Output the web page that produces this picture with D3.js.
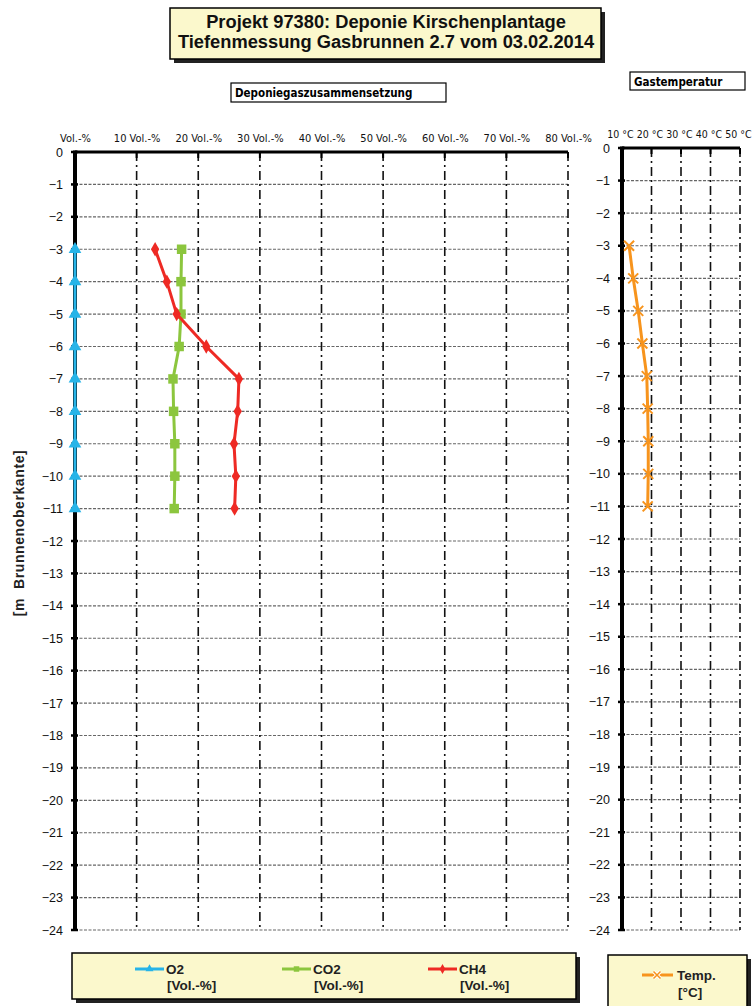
<!DOCTYPE html>
<html><head><meta charset="utf-8">
<script src="https://cdn.jsdelivr.net/npm/d3@7"></script>
<style>
body{margin:0;background:#fff;}
svg{display:block;}
text{font-family:"Liberation Sans",Arial,sans-serif;}
.narrow{font-family:"Liberation Sans Narrow","DejaVu Sans Condensed","Liberation Sans",sans-serif;}
</style></head>
<body>
<script>
const depths = [-3,-4,-5,-6,-7,-8,-9,-10,-11];
const o2  = [0,0,0,0,0,0,0,0,0];
const co2 = [17.3,17.2,17.2,16.9,15.9,16.0,16.2,16.2,16.1];
const ch4 = [13.0,14.9,16.5,21.3,26.6,26.4,25.8,26.1,25.9];
const temp = [12.4,13.8,15.5,16.9,18.4,18.7,18.9,18.9,18.7];
const gasTicks = [0,10,20,30,40,50,60,70,80];
const gasTickLabels = ["Vol.-%","10 Vol.-%","20 Vol.-%","30 Vol.-%","40 Vol.-%","50 Vol.-%","60 Vol.-%","70 Vol.-%","80 Vol.-%"];
const tempTicks = [10,20,30,40,50];
const tempTickLabels = ["10 °C","20 °C","30 °C","40 °C","50 °C"];
const depthTicks = d3.range(0,-25,-1);
const titleLines = ["Projekt 97380: Deponie Kirschenplantage","Tiefenmessung Gasbrunnen 2.7 vom 03.02.2014"];

const W=754,H=1006;
const svg=d3.select("body").append("svg").attr("width",W).attr("height",H);

function shadowBox(x,y,w,h,fill){
  svg.append("rect").attr("x",x+4).attr("y",y+4).attr("width",w).attr("height",h).attr("fill","#222");
  svg.append("rect").attr("x",x).attr("y",y).attr("width",w).attr("height",h).attr("fill",fill).attr("stroke","#000").attr("stroke-width",1.5);
}

// Title
shadowBox(170,8,431,51,"#fbf8cc");
svg.selectAll(".tl").data(titleLines).join("text")
  .attr("x",386).attr("y",(d,i)=>28+i*19.5).attr("text-anchor","middle")
  .attr("font-size",18.3).attr("font-weight","bold").attr("fill","#111").text(d=>d);

// subtitle boxes
svg.append("rect").attr("x",231).attr("y",83).attr("width",215).attr("height",19).attr("fill","#fff").attr("stroke","#000").attr("stroke-width",1.2);
svg.append("text").attr("class","narrow").attr("x",235).attr("y",97).attr("font-size",11.5).attr("font-weight","bold").text("Deponiegaszusammensetzung");
svg.append("rect").attr("x",630).attr("y",72).attr("width",115).attr("height",18).attr("fill","#fff").attr("stroke","#000").attr("stroke-width",1.2);
svg.append("text").attr("class","narrow").attr("x",634).attr("y",85.5).attr("font-size",11.5).attr("font-weight","bold").text("Gastemperatur");

function panel(opts){
  const {x0,x1,y0,y1,dom,ticks,labels,labelDy}=opts;
  const x=d3.scaleLinear().domain(dom).range([x0,x1]);
  const y=d3.scaleLinear().domain([0,-24]).range([y0,y1]);
  const g=svg.append("g");
  // horizontal grid
  g.selectAll(".hg").data(depthTicks.filter(d=>d!==0)).join("line")
    .attr("x1",x0).attr("x2",x1).attr("y1",d=>y(d)).attr("y2",d=>y(d))
    .attr("stroke","#666").attr("stroke-width",1.1).attr("stroke-dasharray","3,1.5");
  // vertical grid
  g.selectAll(".vg").data(ticks.slice(1)).join("line")
    .attr("x1",d=>x(d)).attr("x2",d=>x(d)).attr("y1",y0).attr("y2",y1)
    .attr("stroke","#111").attr("stroke-width",1.6).attr("stroke-dasharray","9,4,2,4");
  // top axis
  const top=d3.axisTop(x).tickValues(ticks).tickSize(0).tickFormat((d,i)=>labels[i]);
  const ta=g.append("g").attr("transform",`translate(0,${y0})`).call(top);
  ta.select(".domain").remove();
  ta.selectAll("text").attr("class","narrow").attr("font-size",opts.tickFont).attr("fill","#111").attr("dy",labelDy).attr("dx",opts.labelDx||0);
  g.append("line").attr("x1",x0).attr("x2",x1).attr("y1",y0).attr("y2",y0).attr("stroke","#000").attr("stroke-width",3);
  g.selectAll(".tt").data(ticks.slice(1)).join("line")
    .attr("x1",d=>x(d)).attr("x2",d=>x(d)).attr("y1",y0).attr("y2",y0+6).attr("stroke","#000").attr("stroke-width",2);
  // left axis
  const left=d3.axisLeft(y).tickValues(depthTicks).tickSize(0).tickPadding(opts.pad).tickFormat(d3.format("d"));
  const la=g.append("g").attr("transform",`translate(${x0},0)`).call(left);
  la.select(".domain").remove();
  la.selectAll("text").attr("font-size",12.5).attr("fill","#111").attr("font-family","Liberation Sans, Arial, sans-serif");
  g.selectAll(".lt").data(depthTicks).join("line")
    .attr("x1",x0-4).attr("x2",x0+3).attr("y1",d=>y(d)).attr("y2",d=>y(d)).attr("stroke","#000").attr("stroke-width",2.5);
  g.append("line").attr("x1",x0).attr("x2",x0).attr("y1",y0-1.5).attr("y2",y1).attr("stroke","#000").attr("stroke-width",4);
  return {x,y,g};
}

const P1=panel({x0:75,x1:568,y0:152,y1:930,dom:[0,80],ticks:gasTicks,labels:gasTickLabels,labelDy:-7,pad:12,tickFont:11});
const P2=panel({x0:622,x1:740,y0:148,y1:930,dom:[10,50],ticks:tempTicks,labels:tempTickLabels,labelDy:-7,labelDx:-2,pad:12,tickFont:10.5});

// y title
svg.append("text").attr("transform","translate(24,533) rotate(-90)").attr("text-anchor","middle")
  .attr("font-size",14).attr("font-weight","bold").attr("fill","#222").attr("letter-spacing",0.6).attr("xml:space","preserve").text("[m  Brunnenoberkante]");

const colors={o2:"#27b4e8",co2:"#8cc63e",ch4:"#ee2a24",temp:"#f7941d"};
function series(P,vals,color,marker){
  const pts=vals.map((v,i)=>[v,depths[i]]);
  const line=d3.line().x(d=>P.x(d[0])).y(d=>P.y(d[1]));
  P.g.append("path").datum(pts).attr("d",line).attr("fill","none").attr("stroke",color).attr("stroke-width",3);
  const m=P.g.selectAll(null).data(pts).join("g").attr("transform",d=>`translate(${P.x(d[0])},${P.y(d[1])})`);
  drawMarker(m,marker,color);
}
function drawMarker(sel,marker,color){
  if(marker==="x"){
    sel.append("path").attr("d","M-5,-5L5,5M-5,5L5,-5").attr("stroke",color).attr("stroke-width",2).attr("fill","none");
  } else {
    const t={tri:d3.symbolTriangle,sq:d3.symbolSquare,dia:d3.symbolDiamond}[marker];
    const s={tri:70,sq:90,dia:60}[marker];
    sel.append("path").attr("d",d3.symbol(t,s)).attr("fill",color);
  }
}
series(P1,o2,colors.o2,"tri");
series(P1,co2,colors.co2,"sq");
series(P1,ch4,colors.ch4,"dia");
series(P2,temp,colors.temp,"x");

// legends
shadowBox(72,953,504,46,"#fbf8cc");
const leg=[{n:"O2",c:colors.o2,m:"tri",x:135},{n:"CO2",c:colors.co2,m:"sq",x:282},{n:"CH4",c:colors.ch4,m:"dia",x:428}];
leg.forEach(l=>{
  svg.append("line").attr("x1",l.x).attr("x2",l.x+29).attr("y1",969).attr("y2",969).attr("stroke",l.c).attr("stroke-width",3);
  const g=svg.append("g").attr("transform",`translate(${l.x+14.5},969)`);
  g.append("path").attr("d",d3.symbol({tri:d3.symbolTriangle,sq:d3.symbolSquare,dia:d3.symbolDiamond}[l.m],l.m==="sq"?30:28)).attr("fill",l.c);
  svg.append("text").attr("x",l.x+31).attr("y",974).attr("font-size",13.5).attr("font-weight","bold").attr("fill","#222").text(l.n);
  svg.append("text").attr("x",l.x+32).attr("y",990).attr("font-size",13.5).attr("font-weight","bold").attr("fill","#222").text("[Vol.-%]");
});
shadowBox(608,955,139,55,"#fbf8cc");
svg.append("line").attr("x1",642).attr("x2",673).attr("y1",975).attr("y2",975).attr("stroke",colors.temp).attr("stroke-width",3);
svg.append("path").attr("d","M653.5,971.5L660.5,978.5M653.5,978.5L660.5,971.5").attr("stroke","#fff").attr("stroke-width",3.5);
svg.append("path").attr("d","M653.5,971.5L660.5,978.5M653.5,978.5L660.5,971.5").attr("stroke",colors.temp).attr("stroke-width",1.5);
svg.append("text").attr("x",677).attr("y",980).attr("font-size",13.5).attr("font-weight","bold").attr("fill","#222").text("Temp.");
svg.append("text").attr("x",678).attr("y",997).attr("font-size",13.5).attr("font-weight","bold").attr("fill","#222").text("[°C]");
</script>
</body></html>
